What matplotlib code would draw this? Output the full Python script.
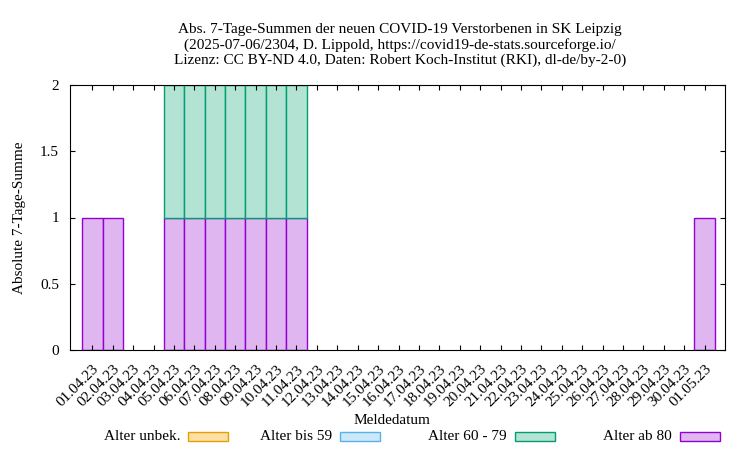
import matplotlib
matplotlib.use("Agg")
import matplotlib.pyplot as plt
from matplotlib.patches import Rectangle
import numpy as np

plt.rcParams['font.family'] = ['Liberation Serif', 'DejaVu Serif']

dates = ["01.04.23", "02.04.23", "03.04.23", "04.04.23", "05.04.23", "06.04.23",
         "07.04.23", "08.04.23", "09.04.23", "10.04.23", "11.04.23", "12.04.23",
         "13.04.23", "14.04.23", "15.04.23", "16.04.23", "17.04.23", "18.04.23",
         "19.04.23", "20.04.23", "21.04.23", "22.04.23", "23.04.23", "24.04.23",
         "25.04.23", "26.04.23", "27.04.23", "28.04.23", "29.04.23", "30.04.23",
         "01.05.23"]
ab80    = [1, 1, 0, 0, 1, 1, 1, 1, 1, 1, 1] + [0] * 19 + [1]
a60_79  = [0, 0, 0, 0, 1, 1, 1, 1, 1, 1, 1] + [0] * 20
bis59   = [0] * 31
unbek   = [0] * 31

series = [("Alter ab 80", ab80, "#dfb6f0", "#9400d3"),
          ("Alter 60 - 79", a60_79, "#b3e3d3", "#009e73"),
          ("Alter bis 59", bis59, "#cde8f8", "#56b4e9"),
          ("Alter unbek.", unbek, "#fbe0a5", "#e69f00")]

fig = plt.figure(figsize=(7.5, 4.5), dpi=100)
ax = fig.add_axes([70 / 750, 1 - 350 / 450, 655 / 750, 265 / 450])

x = np.arange(len(dates))
bottom = np.zeros(len(dates))
for name, vals, fc, ec in series:
    v = np.array(vals, dtype=float)
    mask = v > 0
    ax.bar(x[mask], v[mask], width=1.0, bottom=bottom[mask], color=fc,
           edgecolor=ec, linewidth=1.0)
    bottom += v

ax.set_xlim(-1.1, 31)
ax.set_ylim(0, 2)
ax.set_yticks([0, 0.5, 1, 1.5, 2])
ax.set_yticklabels(["0", "0.5", "1", "1.5", "2"])
ax.set_xticks(x)
ax.set_xticklabels(dates, rotation=45, ha="right", rotation_mode="anchor")
ax.tick_params(direction="in", top=True, right=True, labelsize=11)
ax.tick_params(axis="x", pad=9)
ax.tick_params(axis="y", pad=8)
ax.set_ylabel("Absolute 7-Tage-Summe", fontsize=11, labelpad=10)
fig.text(392 / 750, 1 - 420 / 450, "Meldedatum", ha="center", va="center", fontsize=11)
fig.text(400 / 750, 1 - 45 / 450,
         "Abs. 7-Tage-Summen der neuen COVID-19 Verstorbenen in SK Leipzig\n"
         "(2025-07-06/2304, D. Lippold, https://covid19-de-stats.sourceforge.io/\n"
         "Lizenz: CC BY-ND 4.0, Daten: Robert Koch-Institut (RKI), dl-de/by-2-0)",
         ha="center", va="center", fontsize=11, linespacing=1.2)

# legend row at the bottom (gnuplot style: text then sample)
leg = [("Alter unbek.", 228, "#fbe0a5", "#e69f00"),
       ("Alter bis 59", 380, "#cde8f8", "#56b4e9"),
       ("Alter 60 - 79", 555, "#b3e3d3", "#009e73"),
       ("Alter ab 80", 720, "#dfb6f0", "#9400d3")]
for name, xr, fc, ec in leg:
    fig.text((xr - 48) / 750, 1 - 437 / 450, name, ha="right", va="center", fontsize=11)
    fig.add_artist(Rectangle(((xr - 40) / 750, 1 - 441 / 450), 40 / 750, 9 / 450,
                             facecolor=fc, edgecolor=ec, lw=1.0,
                             transform=fig.transFigure))

fig.savefig("out.png", dpi=100)
